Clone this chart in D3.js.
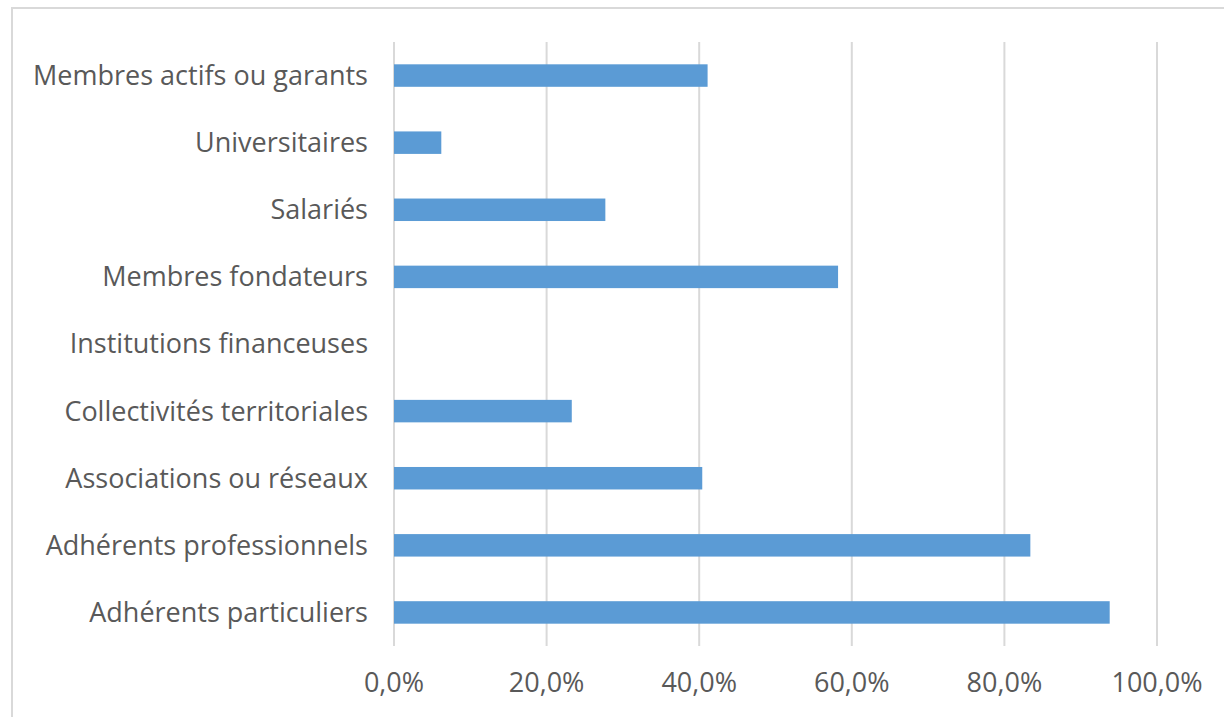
<!DOCTYPE html>
<html><head><meta charset="utf-8">
<script src="https://cdn.jsdelivr.net/npm/d3@7"></script>
<style>
html,body{margin:0;padding:0;background:#fff;}
svg{display:block;}
text{font-family:"Open Sans",sans-serif;fill:#595959;}
</style></head>
<body>
<svg id="chart" width="1224" height="717"></svg>
<script>
const categories = [
  "Membres actifs ou garants",
  "Universitaires",
  "Salariés",
  "Membres fondateurs",
  "Institutions financeuses",
  "Collectivités territoriales",
  "Associations ou réseaux",
  "Adhérents professionnels",
  "Adhérents particuliers"
];
const values = [0.411, 0.062, 0.277, 0.582, 0, 0.233, 0.404, 0.834, 0.938];
const tickValues = [0, 0.2, 0.4, 0.6, 0.8, 1.0];
const tickLabels = ["0,0%", "20,0%", "40,0%", "60,0%", "80,0%", "100,0%"];

const svg = d3.select("#chart");

// outer chart border
svg.append("rect").attr("x", 12).attr("y", 8).attr("width", 1240).attr("height", 740)
  .attr("fill", "none").attr("stroke", "#d9d9d9").attr("stroke-width", 2);

const x = d3.scaleLinear().domain([0, 1]).range([394, 1157]);
const y = d3.scaleBand().domain(categories).range([42, 646]).paddingInner(0.665).paddingOuter(0.3325);

// gridlines
svg.append("g").selectAll("line").data(tickValues).join("line")
  .attr("x1", d => x(d)).attr("x2", d => x(d))
  .attr("y1", 42).attr("y2", 646)
  .attr("stroke", "#d9d9d9").attr("stroke-width", 2);

// bars
svg.append("g").selectAll("rect").data(values).join("rect")
  .attr("x", x(0))
  .attr("y", (d, i) => y(categories[i]))
  .attr("width", d => x(d) - x(0))
  .attr("height", y.bandwidth())
  .attr("fill", "#5b9bd5");

// category labels
svg.append("g").selectAll("text").data(categories).join("text")
  .attr("x", 368)
  .attr("y", d => y(d) + y.bandwidth() / 2)
  .attr("dy", "0.35em")
  .attr("text-anchor", "end")
  .style("font-size", "27px")
  .text(d => d);

// x axis tick labels
svg.append("g").selectAll("text").data(tickValues).join("text")
  .attr("x", d => x(d))
  .attr("y", 683)
  .attr("dy", "0.35em")
  .attr("text-anchor", "middle")
  .style("font-size", "27px")
  .text((d, i) => tickLabels[i]);
</script>
</body></html>
